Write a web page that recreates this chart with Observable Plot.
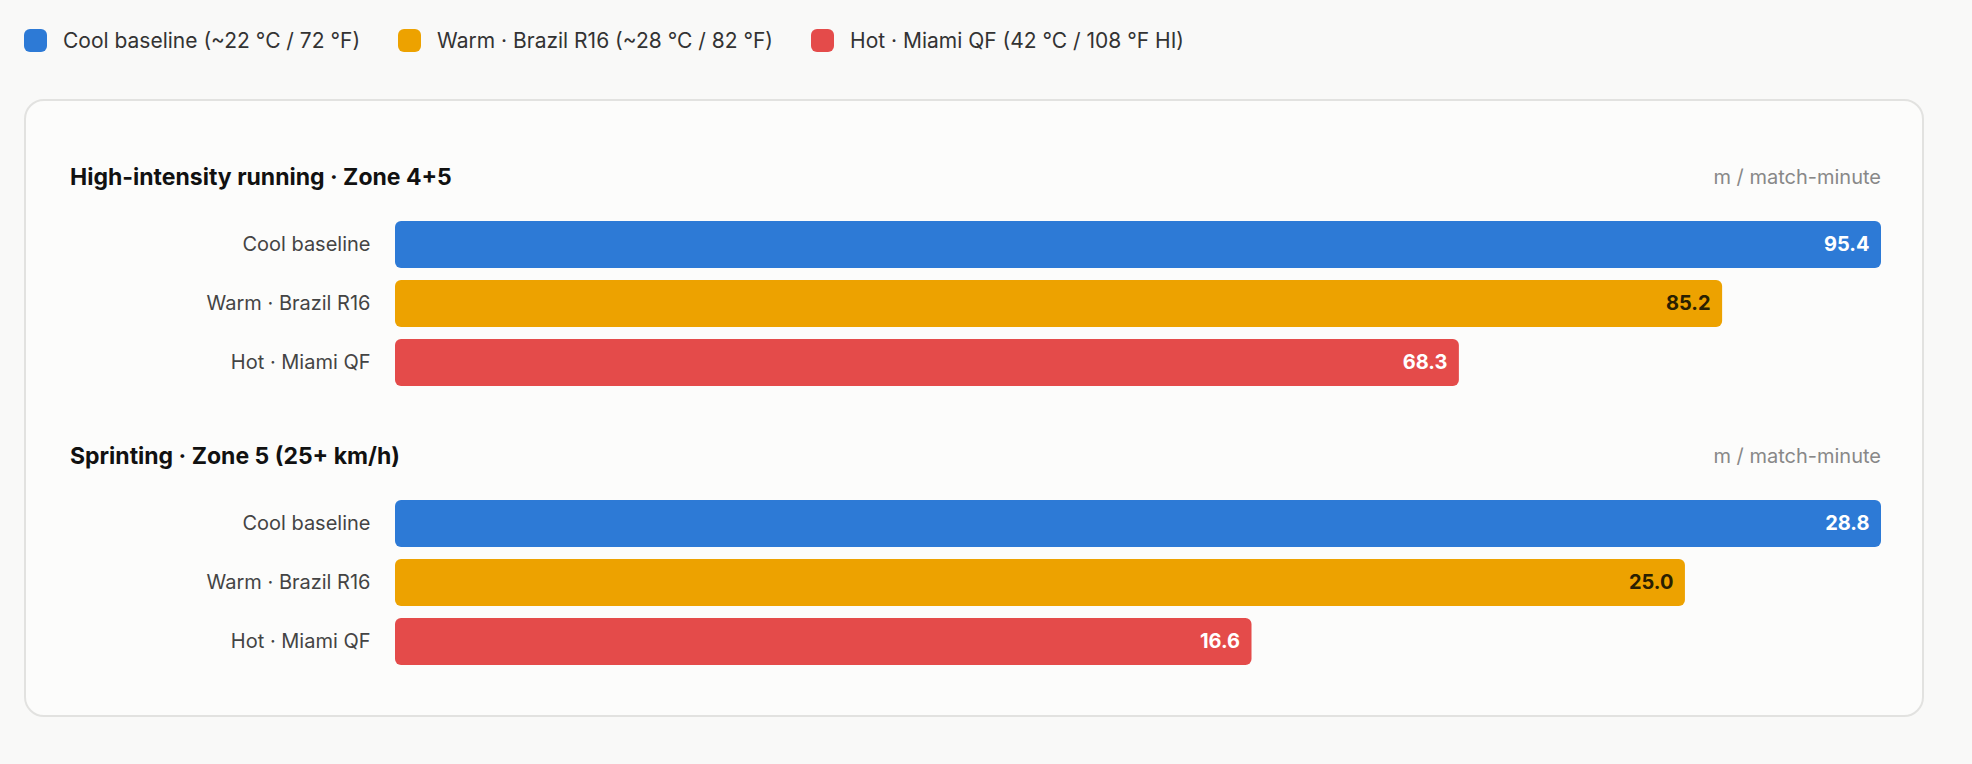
<!DOCTYPE html>
<html><head><meta charset="utf-8">
<script src="https://cdn.jsdelivr.net/npm/d3@7"></script>
<script src="https://cdn.jsdelivr.net/npm/@observablehq/plot@0.6"></script>
<style>
body{margin:0;background:#f9f9f8;font-family:Inter,"Noto Sans",sans-serif;width:1972px;height:764px;overflow:hidden}
#legend{position:absolute;left:24px;top:28px;display:flex;font-size:21px;color:#333}
.li{display:flex;align-items:center;margin-right:38px}
.sw{width:23px;height:23px;border-radius:6px;margin-right:16px}
#card{position:absolute;left:24px;top:99px;width:1900px;height:618px;background:#fcfcfb;border:2px solid #e2e2e0;border-radius:20px;box-sizing:border-box}
.hdr{position:absolute;left:44px;width:1811px;display:flex;justify-content:space-between;align-items:center;height:28px}
.ttl{font-weight:700;font-size:23px;color:#111}
.unit{font-size:20px;color:#888}
.pl{position:absolute;left:44px}
</style></head><body>
<div id="legend"></div>
<div id="card"></div>
<script>
const conditions=["Cool baseline","Warm · Brazil R16","Hot · Miami QF"];
const legendLabels=["Cool baseline (~22 °C / 72 °F)","Warm · Brazil R16 (~28 °C / 82 °F)","Hot · Miami QF (42 °C / 108 °F HI)"];
const colors=["#2d7ad6","#eda200","#e44b4a"];
const textColors=["#fff","#2a2000","#fff"];
const panelTitles=["High-intensity running · Zone 4+5","Sprinting · Zone 5 (25+ km/h)"];
const unit="m / match-minute";
const hirValues=[95.4,85.2,68.3];
const sprintValues=[28.8,25.0,16.6];
const panels=[hirValues,sprintValues];

const lg=document.getElementById("legend");
legendLabels.forEach((l,i)=>{lg.insertAdjacentHTML("beforeend",`<div class="li"><div class="sw" style="background:${colors[i]}"></div>${l}</div>`)});
const card=document.getElementById("card");
const tops=[62,341];
panels.forEach((vals,p)=>{
  const h=document.createElement("div");h.className="hdr";h.style.top=tops[p]+"px";
  h.innerHTML=`<span class="ttl">${panelTitles[p]}</span><span class="unit">${unit}</span>`;
  card.appendChild(h);
  const data=conditions.map((c,i)=>({c,v:vals[i],i}));
  const max=d3.max(vals);
  const plot=Plot.plot({
    width:1811,height:190,marginLeft:325,marginRight:0,marginTop:0,marginBottom:0,
    style:{fontSize:"20px",fontFamily:"Inter, sans-serif",color:"#444",background:"transparent"},
    x:{domain:[0,max],axis:null},
    y:{domain:conditions,padding:0.2,label:null},
    marks:[
      Plot.barX(data,{x:"v",y:"c",fill:d=>colors[d.i],rx:6}),
      Plot.text(data,{x:"v",y:"c",text:d=>d.v.toFixed(1),textAnchor:"end",dx:-12,fill:d=>textColors[d.i],fontWeight:700,fontSize:20}),
      Plot.axisY({tickSize:0,tickPadding:25,fontSize:20,label:null})
    ]
  });
  plot.classList.add("pl");plot.style.top=(tops[p]+46)+"px";
  card.appendChild(plot);
});
</script>
</body></html>
